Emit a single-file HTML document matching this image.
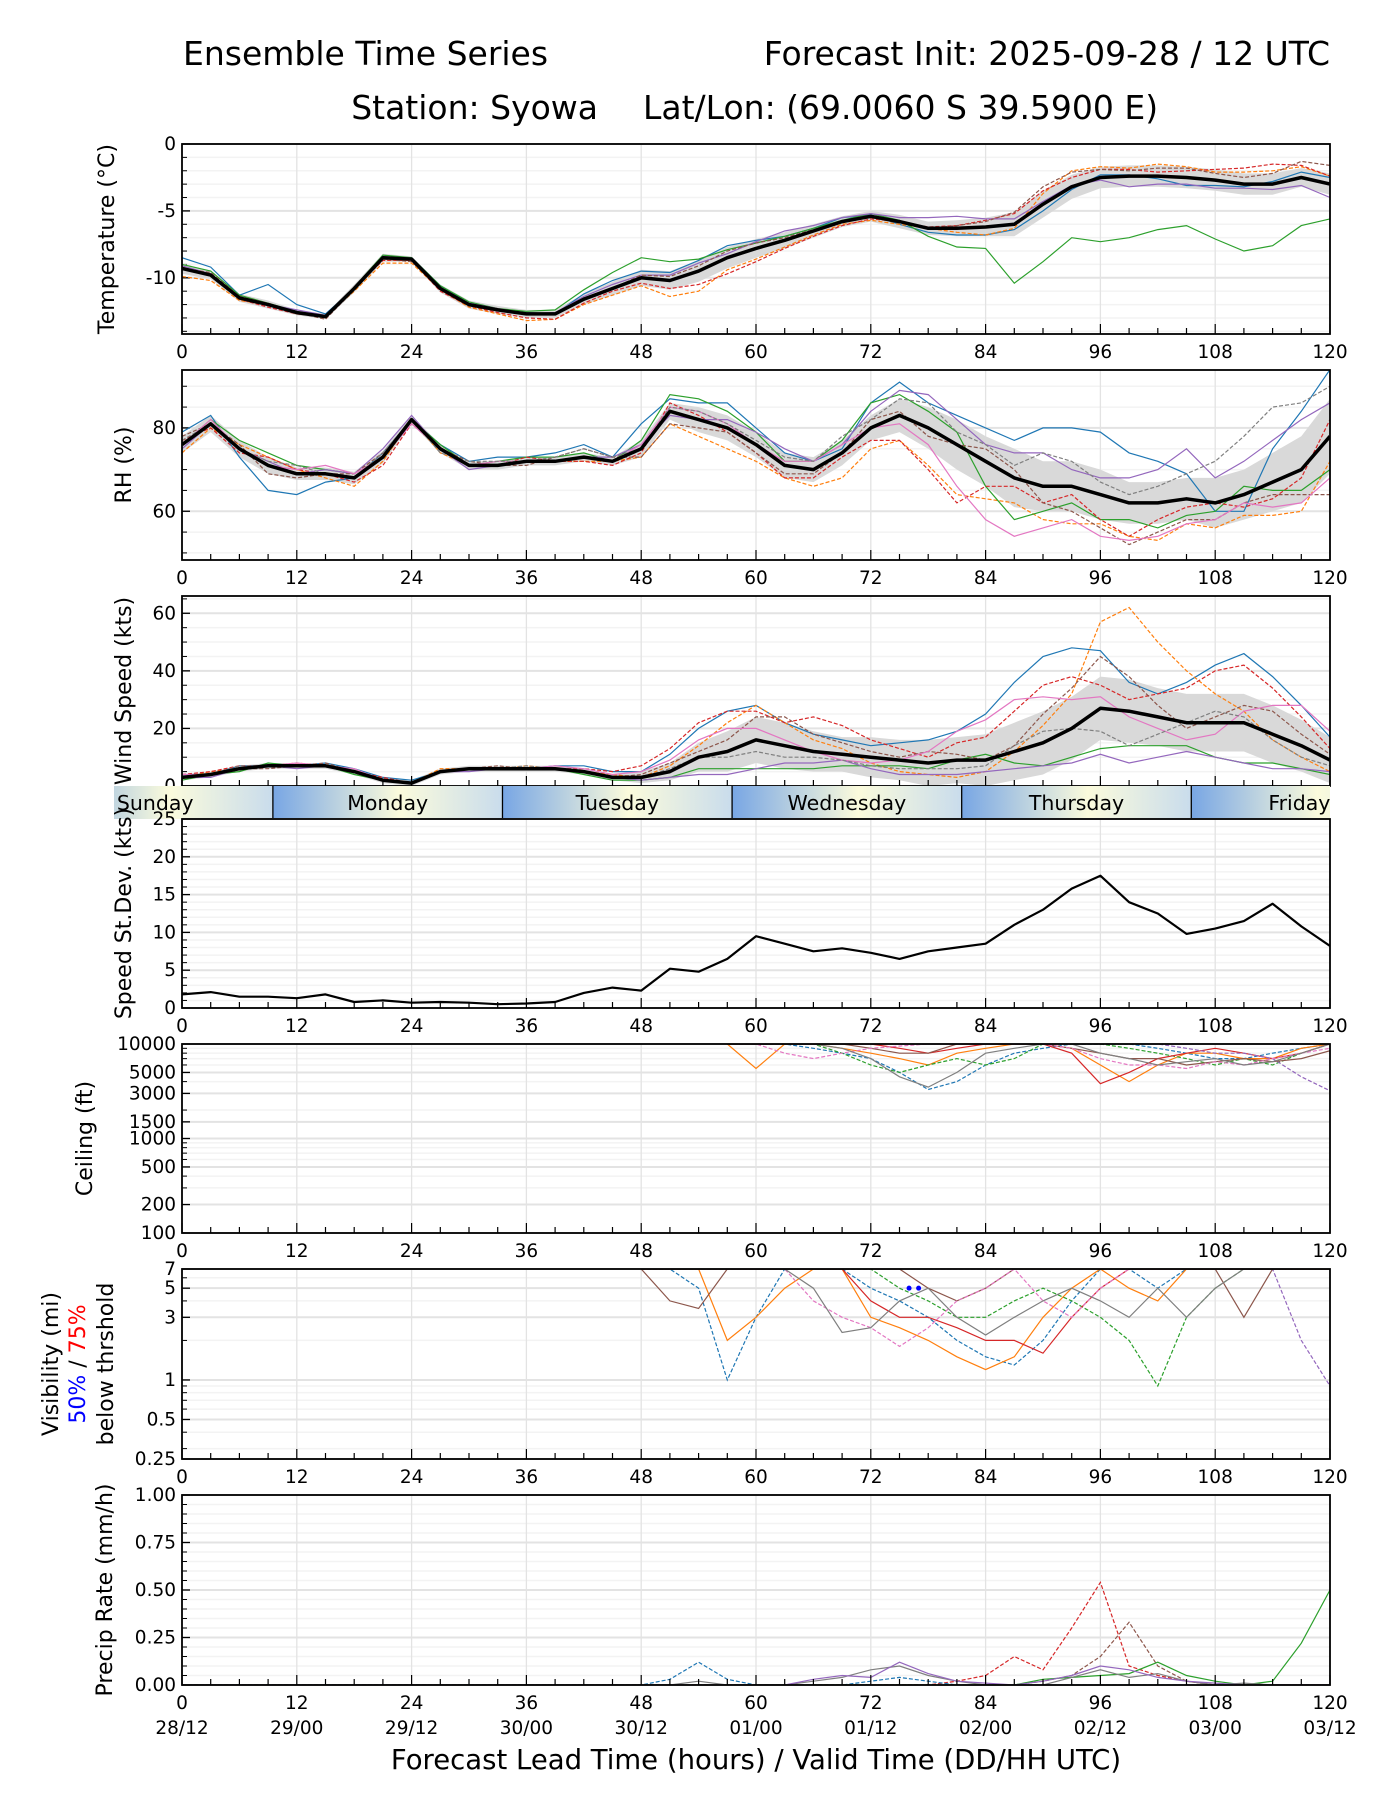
<!DOCTYPE html>
<html><head><meta charset="utf-8"><title>Ensemble Time Series - Syowa</title>
<style>
html,body{margin:0;padding:0;background:#fff;}
svg{display:block;font-family:"DejaVu Sans","Liberation Sans",sans-serif;}
</style></head>
<body>
<svg id="chart" width="1400" height="1800" viewBox="0 0 1400 1800" xmlns="http://www.w3.org/2000/svg">
<defs>
<linearGradient id="dayGrad" x1="0" x2="1" y1="0" y2="0">
<stop offset="0" stop-color="#78a6e4"/><stop offset="0.55" stop-color="#fbfbdc"/><stop offset="1" stop-color="#c9dcec"/>
</linearGradient>
</defs>
<text x="183" y="65" font-size="33">Ensemble Time Series</text>
<text x="1330" y="65" font-size="33" text-anchor="end">Forecast Init: 2025-09-28 / 12 UTC</text>
<text x="598" y="119" font-size="33" text-anchor="end">Station: Syowa</text>
<text x="643" y="119" font-size="33">Lat/Lon: (69.0060 S 39.5900 E)</text>
<g id="plots"></g>
</svg>
<script>
const hours=[0,3,6,9,12,15,18,21,24,27,30,33,36,39,42,45,48,51,54,57,60,63,66,69,72,75,78,81,84,87,90,93,96,99,102,105,108,111,114,117,120];
const xTickLabels=["0","12","24","36","48","60","72","84","96","108","120"];
const dateLabels=["28/12","29/00","29/12","30/00","30/12","01/00","01/12","02/00","02/12","03/00","03/12"];
const dayNames=["Sunday","Monday","Tuesday","Wednesday","Thursday","Friday"];
const dayStarts=[-14.5,9.5,33.5,57.5,81.5,105.5];
// Temperature
const tempMean=[-9.3,-9.8,-11.5,-12.0,-12.6,-12.9,-10.8,-8.5,-8.6,-10.8,-12.0,-12.4,-12.7,-12.7,-11.6,-10.8,-10.0,-10.2,-9.5,-8.5,-7.8,-7.2,-6.5,-5.8,-5.4,-5.8,-6.3,-6.3,-6.2,-6.0,-4.5,-3.2,-2.5,-2.4,-2.4,-2.5,-2.7,-3.0,-3.0,-2.5,-3.0];
const tempSpread=[0.4,0.3,0.3,0.3,0.2,0.2,0.3,0.3,0.2,0.3,0.3,0.3,0.3,0.3,0.4,0.5,0.6,0.7,0.8,0.8,0.7,0.6,0.5,0.4,0.4,0.5,0.5,0.6,0.7,0.9,1.0,0.9,0.8,0.8,0.8,0.8,0.8,0.8,0.8,0.7,0.8];
const tempDev=[
[0.8,0.6,0.2,1.5,0.6,0.2,0,0,0.1,0.2,0.1,0,0.1,0,0.4,0.6,0.5,0.6,0.8,0.9,0.6,0.3,0.2,0.3,0.1,-0.2,-0.3,-0.5,-0.6,-0.4,-0.5,-0.2,0.2,0.1,-0.2,-0.6,-0.4,-0.2,0.2,0.4,0.5],
[-0.6,-0.4,-0.2,0,-0.1,0,-0.2,-0.4,-0.3,-0.1,-0.2,-0.3,-0.5,-0.4,-0.4,-0.5,-0.6,-1.2,-1.5,-0.9,-0.8,-0.5,-0.3,-0.2,-0.3,-0.2,0,-0.3,-0.6,-0.3,0.8,1.2,0.8,0.6,0.9,0.8,0.6,0.9,1.0,0.8,0.6],
[0.3,0.3,0.2,0.1,0.1,0,0.1,0.2,0.1,0.2,0.2,0.1,0.2,0.3,0.7,1.2,1.5,1.4,0.9,0.6,0.4,0.3,0.2,0.1,0.2,0.1,-0.6,-1.4,-1.6,-4.4,-4.3,-3.8,-4.8,-4.6,-4.0,-3.6,-4.4,-5.0,-4.6,-3.6,-2.6],
[0.1,0,-0.1,-0.2,-0.1,0,0,-0.2,-0.1,-0.2,-0.1,-0.2,-0.3,-0.4,-0.3,-0.2,-0.4,-0.6,-1.0,-1.2,-1.0,-0.6,-0.4,-0.3,-0.2,0,0.1,0.2,0.5,0.8,1.0,0.7,0.6,0.5,0.3,0.5,0.8,1.2,1.5,0.9,0.6],
[0.2,0.1,0,0,0.2,0.1,0,0.1,0,0,0.1,0.1,0,0.1,0.2,0.3,0.2,0.4,0.6,0.3,0.5,0.7,0.4,0.3,0.2,0.3,0.8,0.9,0.6,0.4,0.2,0.1,-0.2,-0.8,-0.6,-0.5,-0.6,-0.3,-0.4,-0.6,-1.0],
[0,0.2,0.1,0.1,0,-0.2,-0.1,-0.1,-0.2,0,0,0.1,0,0,0.1,0,0.2,0.3,0.4,0.5,0.4,0.2,0.1,0,-0.1,-0.1,0,0.2,0.4,0.9,1.3,1.1,0.6,0.4,0.6,0.7,0.5,0.5,0.8,1.2,1.4]];
// RH
const rhMean=[76,81,75,71,69,69,68,73,82,75,71,71,72,72,73,72,75,84,82,80,76,71,70,74,80,83,80,76,72,68,66,66,64,62,62,63,62,64,67,70,78];
const rhSpread=[2,2,2,2,1.5,1.5,1.5,1.5,1,1,1,1,1,1,1,1,2,2,3,3,3,3,3,3,3,4,5,6,6,7,6,6,6,5,5,5,6,6,7,8,9];
const rhDev=[
[3,2,-2,-6,-5,-2,0,1,0,1,1,2,1,2,3,1,6,3,4,6,4,3,2,1,6,8,6,7,8,9,14,14,15,12,10,6,-2,-4,8,14,16],
[-2,-1,1,2,1,-1,-2,-1,0,-1,0,0,0,0,-1,0,-2,-3,-4,-5,-4,-3,-4,-6,-5,-6,-9,-12,-9,-6,-8,-9,-7,-8,-9,-6,-6,-5,-8,-10,-6],
[0,1,2,3,2,1,1,0,0,1,0,1,1,1,1,0,2,4,5,4,3,1,2,3,6,5,4,3,-6,-10,-6,-4,-6,-4,-6,-4,-2,2,-2,-5,-8],
[1,-1,-1,2,1,0,-1,-2,-1,0,0,0,1,0,-1,-1,-1,2,1,-1,-2,-3,-2,-1,-3,-6,-10,-14,-6,-2,-4,-2,-6,-8,-4,-2,0,-3,-4,-2,4],
[-1,0,0,1,0,1,1,2,1,0,-1,0,0,0,0,1,1,-1,0,2,3,4,2,2,4,6,8,6,4,6,8,4,4,6,8,12,6,8,10,12,8],
[2,0,1,-2,-1,0,1,1,0,0,1,0,-1,1,2,1,-2,-3,-2,-1,-2,-2,-1,0,2,1,-2,0,3,2,-4,-6,-8,-10,-7,-5,-4,-2,-3,-6,-14],
[0,1,0,0,1,2,1,0,-1,0,0,1,0,0,0,0,1,1,2,1,0,1,2,2,0,-2,-4,-10,-14,-14,-10,-8,-10,-9,-8,-6,-4,-2,-6,-8,-10],
[1,0,0,1,2,0,0,1,0,-1,1,1,0,1,2,1,0,1,2,1,1,2,2,4,2,4,6,3,4,3,8,6,3,2,4,6,10,14,18,16,12]];
// Wind speed
const wsMean=[3,4,6,7,7,7,5,2,1,5,6,6,6,6,5,3,3,5,10,12,16,14,12,11,10,9,8,9,9,12,15,20,27,26,24,22,22,22,18,14,9];
const wsSpread=[1,1,1,1,1,1,1,1,1,1,1,1,1,1,1,1,2,3,5,7,8,8,7,6,7,7,8,8,9,10,11,11,11,11,10,10,10,10,10,9,8];
const wsDev=[
[1,0,1,0,0,1,1,1,1,0,0,0,0,1,2,2,2,6,10,14,12,8,6,5,4,6,8,10,16,24,30,28,20,10,8,14,20,24,20,14,8],
[0,1,0,0,1,0,0,0,0,1,0,0,1,0,0,1,0,2,4,10,12,8,4,2,-2,-4,-4,-6,-4,0,6,12,30,36,26,18,10,4,-2,-4,-4],
[-1,0,-1,1,0,0,-1,0,0,0,0,0,0,0,-1,-1,-1,-2,-4,-6,-10,-8,-6,-4,-3,-2,-2,0,2,-4,-8,-10,-14,-12,-10,-8,-12,-14,-10,-8,-5],
[1,1,1,0,0,0,0,1,0,0,0,0,0,0,1,2,4,8,12,14,10,8,12,10,6,4,2,6,8,14,20,18,8,4,8,12,18,20,16,10,4],
[0,-1,0,0,-1,0,0,0,0,0,-1,0,0,0,0,0,-1,-2,-6,-8,-10,-6,-4,-2,-4,-5,-4,-5,-4,-6,-8,-12,-16,-18,-14,-10,-12,-14,-12,-8,-4],
[0,0,0,-1,0,1,0,0,0,0,0,1,0,0,0,0,1,3,2,4,8,10,6,4,2,1,4,2,0,2,10,14,18,12,4,-2,2,6,8,4,2],
[1,0,0,0,1,0,1,0,0,0,0,0,0,1,1,1,2,4,6,8,4,2,0,-2,-2,0,4,10,14,18,16,10,4,-2,-4,-6,-4,4,10,14,10],
[0,0,1,0,0,0,0,0,0,0,0,0,1,0,0,0,0,1,0,-2,-4,-4,-2,-2,-3,-3,-2,-3,-2,2,4,0,-8,-12,-6,0,4,2,-2,-4,-2]];
// Speed std dev
const sdVals=[1.8,2.1,1.5,1.5,1.3,1.8,0.8,1.0,0.7,0.8,0.7,0.5,0.6,0.8,2.0,2.7,2.3,5.2,4.8,6.5,9.5,8.5,7.5,7.9,7.3,6.5,7.5,8.0,8.5,11.0,13.0,15.8,17.5,14.0,12.5,9.8,10.5,11.5,13.8,10.8,8.2];
// Ceiling (hours 57..120)
const ceilHours=[57,60,63,66,69,72,75,78,81,84,87,90,93,96,99,102,105,108,111,114,117,120];
const ceilMembers=[
[10000,10000,10000,9000,8000,7000,5000,3300,4000,6000,8000,9000,10000,10000,10000,9000,8000,7000,7000,8000,9000,10000],
[10000,5500,10000,10000,9000,8000,7000,6000,8000,9000,10000,10000,9000,6000,4000,6000,8000,8000,7000,7000,9000,10000],
[10000,10000,10000,10000,8000,6000,5000,6000,7000,6000,7000,10000,10000,10000,9000,8000,7000,6000,7000,6000,8000,10000],
[10000,10000,10000,10000,10000,10000,9000,8000,9000,10000,10000,10000,8000,3800,5000,7000,8000,9000,8000,7000,8000,10000],
[10000,10000,10000,10000,10000,10000,10000,10000,10000,10000,10000,10000,10000,10000,10000,10000,9000,8000,8000,7000,4500,3200],
[10000,10000,10000,10000,10000,9000,8000,8000,10000,10000,10000,10000,9000,8000,7000,7000,6000,6500,7000,6500,7000,8500],
[10000,10000,8000,7000,8000,9000,9500,10000,10000,10000,10000,10000,9000,7000,6000,6000,5500,6500,6000,7000,8000,9000],
[10000,10000,10000,10000,9000,7000,4500,3500,5000,8000,9000,10000,10000,8000,7000,6000,6500,7000,6000,6500,8000,10000]];
// Visibility (hours 48..120)
const visHours=[48,51,54,57,60,63,66,69,72,75,78,81,84,87,90,93,96,99,102,105,108,111,114,117,120];
const visMembers=[
[7,7,5,1.0,3,7,7,7,5,4,3,2,1.5,1.3,2,4,7,7,5,7,7,7,7,7,7],
[7,7,7,2.0,3,5,7,7,3,2.5,2,1.5,1.2,1.5,3,5,7,5,4,7,7,7,7,7,7],
[7,7,7,7,7,7,7,7,7,5,4,3,3,4,5,4,3,2,0.9,3,5,7,7,7,7],
[7,7,7,7,7,7,7,7,4,3,3,2.5,2,2,1.6,3,5,7,7,7,7,7,7,7,7],
[7,7,7,7,7,7,7,7,7,7,7,7,7,7,7,7,7,7,7,7,7,7,7,2.0,0.9],
[7,4,3.5,7,7,7,7,7,7,7,5,4,5,7,7,7,7,7,7,7,7,3,7,7,7],
[7,7,7,7,7,7,4,3,2.5,1.8,2.5,4,5,7,4,3,5,7,7,7,7,7,7,7,7],
[7,7,7,7,7,7,5,2.3,2.5,4,5,3,2.2,3,4,5,4,3,5,3,5,7,7,7,7]];
const visDotHours=[76,77];
const visDotVals=[5,5];
// Precip
const precipMembers=[
[0,0,0,0,0,0,0,0,0,0,0,0,0,0,0,0,0,0,0,0,0,0,0,0,0,0,0,0.02,0.05,0.15,0.08,0.3,0.54,0.1,0.05,0.02,0,0,0,0,0],
[0,0,0,0,0,0,0,0,0,0,0,0,0,0,0,0,0,0.03,0.12,0.03,0,0,0,0,0.02,0.04,0.02,0,0,0,0,0,0,0,0,0,0,0,0,0,0],
[0,0,0,0,0,0,0,0,0,0,0,0,0,0,0,0,0,0,0,0,0,0,0,0,0,0,0,0,0,0,0.02,0.05,0.15,0.33,0.1,0.02,0,0,0,0,0],
[0,0,0,0,0,0,0,0,0,0,0,0,0,0,0,0,0,0,0,0,0,0,0,0,0,0,0,0,0,0,0.03,0.04,0.05,0.06,0.12,0.05,0.02,0,0.02,0.22,0.5],
[0,0,0,0,0,0,0,0,0,0,0,0,0,0,0,0,0,0,0.02,0,0,0,0.02,0.04,0.08,0.1,0.05,0.02,0,0,0,0.04,0.08,0.04,0.06,0.02,0,0.01,0,0,0],
[0,0,0,0,0,0,0,0,0,0,0,0,0,0,0,0,0,0,0,0,0,0,0.03,0.05,0.04,0.12,0.06,0.02,0.01,0,0.02,0.05,0.1,0.08,0.04,0.02,0.01,0,0,0,0]];

const colors=["#1f77b4","#ff7f0e","#2ca02c","#d62728","#9467bd","#8c564b","#e377c2","#7f7f7f","#bcbd22","#17becf"];
const NS="http://www.w3.org/2000/svg";
const root=document.getElementById('plots');
const X0=182,X1=1330;
const TF=18.5, LF=22;
function xs(h){return X0+h*(X1-X0)/120;}
function mk(tag,attrs,parent){const e=document.createElementNS(NS,tag);for(const k in attrs)e.setAttribute(k,attrs[k]);(parent||root).appendChild(e);return e;}

function panel(cfg){
  const g=mk('g',{});
  
  
  const T=cfg.top,B=cfg.bot;
  let ys;
  if(cfg.log){const a=Math.log10(cfg.min),b=Math.log10(cfg.max);ys=v=>B-(Math.log10(v)-a)/(b-a)*(B-T);}
  else ys=v=>B-(v-cfg.min)/(cfg.max-cfg.min)*(B-T);
  (cfg.minor||[]).forEach(v=>{const l=mk('line',{x1:X0,x2:X1,y1:ys(v),y2:ys(v),stroke:'#f3f3f3','stroke-width':1.5},g);
    
    mk('line',{x1:X0,x2:X0+5,y1:ys(v),y2:ys(v),stroke:'#000','stroke-width':1},g);});
  for(let h=0;h<=120;h+=12){const l=mk('line',{x1:xs(h),x2:xs(h),y1:T,y2:B,stroke:'#e3e3e3','stroke-width':1.3},g);
    }
  cfg.ticks.forEach(v=>{const l=mk('line',{x1:X0,x2:X1,y1:ys(v),y2:ys(v),stroke:'#e3e3e3','stroke-width':2},g);
    
    mk('line',{x1:X0,x2:X0+8,y1:ys(v),y2:ys(v),stroke:'#000','stroke-width':1.3},g);
    const t=mk('text',{x:X0-6,y:ys(v)+6,'font-size':TF,'text-anchor':'end'},g);t.textContent=cfg.tickLabel?cfg.tickLabel(v):String(v);
    });
  const cid='clip'+cfg.name;
  const cp=mk('clipPath',{id:cid},g);mk('rect',{x:X0,y:T,width:X1-X0,height:B-T},cp);
  const dg=mk('g',{'clip-path':'url(#'+cid+')'},g);
  
  cfg.draw(dg,ys);
  for(let h=0;h<=120;h+=3){const big=h%12===0;mk('line',{x1:xs(h),x2:xs(h),y1:B,y2:B-(big?10:6),stroke:'#000','stroke-width':1.2},g);}
  if(!cfg.noXLabels){
  xTickLabels.forEach((s,i)=>{const t=mk('text',{x:xs(i*12),y:B+24,'font-size':TF,'text-anchor':'middle'},g);t.textContent=s;
    });
  }
  const fr=mk('rect',{x:X0,y:T,width:X1-X0,height:B-T,fill:'none',stroke:'#000','stroke-width':1.8},g);
  
  const cy=(T+B)/2;
  if(cfg.labelLines){
    cfg.labelLines.forEach((ln)=>{const t=mk('text',{x:0,y:0,'font-size':LF,'text-anchor':'middle',transform:`translate(${ln.x},${cy}) rotate(-90)`},g);
      ln.parts.forEach(p=>{const s=mk('tspan',{fill:p.c||'#000'},t);s.textContent=p.t;});
      });
  } else {
    const t=mk('text',{x:0,y:0,'font-size':LF,'text-anchor':'middle',transform:`translate(${cfg.labelX||115},${cy}) rotate(-90)`},g);t.textContent=cfg.label;
    
  }
}
function pathFrom(hs,vals,ys){return hs.map((h,i)=>(i?'L':'M')+xs(h).toFixed(1)+','+ys(vals[i]).toFixed(1)).join('');}
function ensemble(dg,ys,mean,spread,devs,nm){
  const up=mean.map((m,i)=>m+spread[i]),lo=mean.map((m,i)=>m-spread[i]);
  const d=pathFrom(hours,up,ys)+hours.slice().reverse().map((h,i)=>'L'+xs(h).toFixed(1)+','+ys(lo[lo.length-1-i]).toFixed(1)).join('')+'Z';
  const b=mk('path',{d,fill:'#d9d9d9',stroke:'none'},dg);
  
  devs.forEach((dv,k)=>{const vals=mean.map((m,i)=>m+dv[i]);
    const p=mk('path',{d:pathFrom(hours,vals,ys),fill:'none',stroke:colors[k%10],'stroke-width':1.2,'stroke-dasharray':k%2?'4,2':'none'},dg);
    });
  const mp=mk('path',{d:pathFrom(hours,mean,ys),fill:'none',stroke:'#000','stroke-width':3.5,'stroke-linejoin':'round'},dg);
  
}
function range(a,b,s){const r=[];for(let v=a;v<=b+1e-9;v+=s)r.push(+v.toFixed(3));return r;}

panel({name:'temperature',top:144,bot:334,min:-14.2,max:0,ticks:[0,-5,-10],minor:range(-14,0,1),label:'Temperature (°C)',labelX:114,
  draw:(g,ys)=>ensemble(g,ys,tempMean,tempSpread,tempDev,'temp')});
panel({name:'rh',top:370,bot:560,min:48.3,max:93.9,ticks:[60,80],minor:range(50,90,5),label:'RH (%)',labelX:131,
  draw:(g,ys)=>ensemble(g,ys,rhMean,rhSpread,rhDev,'rh')});
panel({name:'wind-speed',top:596,bot:786,min:0,max:66,ticks:[0,20,40,60],minor:range(0,65,5),label:'Wind Speed (kts)',labelX:131,noXLabels:true,
  draw:(g,ys)=>ensemble(g,ys,wsMean,wsSpread,wsDev,'wind')});
(function(){
  const T=786,B=819;
  const g=mk('g',{});
  const cp=mk('clipPath',{id:'clipday'},g);mk('rect',{x:X0-68,y:T,width:X1-X0+68,height:B-T},cp);
  const dg=mk('g',{'clip-path':'url(#clipday)'},g);
  dayStarts.forEach((s,i)=>{const x0=xs(s),x1=xs(s+24);
    const r=mk('rect',{x:x0,y:T,width:x1-x0,height:B-T,fill:'url(#dayGrad)'},dg);
    
    if(i>0)mk('line',{x1:x0,x2:x0,y1:T,y2:B,stroke:'#000','stroke-width':1.3},dg);
    let cx=(x0+x1)/2;
    if(i===0)cx=xs(-2.8);if(i===dayNames.length-1)cx=xs(116.8);
    const t=mk('text',{x:cx,y:T+24,'font-size':20.5,'text-anchor':'middle'},g);t.textContent=dayNames[i];
    });
})();
panel({name:'speed-stdev',top:819,bot:1008,min:0,max:25,ticks:[0,5,10,15,20,25],minor:range(0,25,1),label:'Speed St.Dev. (kts)',labelX:131,
  draw:(g,ys)=>{const p=mk('path',{d:pathFrom(hours,sdVals,ys),fill:'none',stroke:'#000','stroke-width':2.2,'stroke-linejoin':'round'},g);
    }});
panel({name:'ceiling',top:1044,bot:1233,min:100,max:10000,log:true,ticks:[10000,5000,3000,1500,1000,500,200,100],minor:[300,400,600,700,800,900,2000,4000,6000,7000,8000,9000],label:'Ceiling (ft)',labelX:92,
  draw:(g,ys)=>{ceilMembers.forEach((m,k)=>{const p=mk('path',{d:pathFrom(ceilHours,m.map(v=>Math.min(v,10300)),ys),fill:'none',stroke:colors[k%10],'stroke-width':1.2,'stroke-dasharray':k%2?'none':'4,2'},g);
    });}});
panel({name:'visibility',top:1269,bot:1459,min:0.25,max:7,log:true,ticks:[7,5,3,1,0.5,0.25],minor:[0.3,0.4,0.6,0.7,0.8,0.9,2,4,6],
  labelLines:[{x:58,parts:[{t:'Visibility (mi)'}]},{x:85,parts:[{t:'50%',c:'#0000ff'},{t:' / '},{t:'75%',c:'#ff0000'}]},{x:113,parts:[{t:'below thrshold'}]}],
  draw:(g,ys)=>{visMembers.forEach((m,k)=>{const p=mk('path',{d:pathFrom(visHours,m.map(v=>Math.min(v,7.3)),ys),fill:'none',stroke:colors[k%10],'stroke-width':1.2,'stroke-dasharray':k%2?'none':'4,2'},g);
    });
    visDotHours.forEach((h,i)=>{const c=mk('circle',{cx:xs(h),cy:ys(visDotVals[i]),r:2.5,fill:'#0000ff'},g);
      });}});
panel({name:'precip',top:1495,bot:1685,min:0,max:1,ticks:[0,0.25,0.5,0.75,1],minor:range(0,1,0.05),tickLabel:v=>v.toFixed(2),label:'Precip Rate (mm/h)',labelX:112,
  draw:(g,ys)=>{precipMembers.forEach((m,k)=>{const p=mk('path',{d:pathFrom(hours,m,ys),fill:'none',stroke:[colors[3],colors[0],colors[5],colors[2],colors[7],colors[4]][k],'stroke-width':1.2,'stroke-dasharray':(k<3)?'4,2':'none'},g);
    });}});
dateLabels.forEach((s,i)=>{const t=mk('text',{x:xs(i*12),y:1734,'font-size':TF,'text-anchor':'middle'});t.textContent=s;
  });
const xl=mk('text',{x:756,y:1769,'font-size':27.5,'text-anchor':'middle'});xl.textContent='Forecast Lead Time (hours) / Valid Time (DD/HH UTC)';

</script>
</body></html>
